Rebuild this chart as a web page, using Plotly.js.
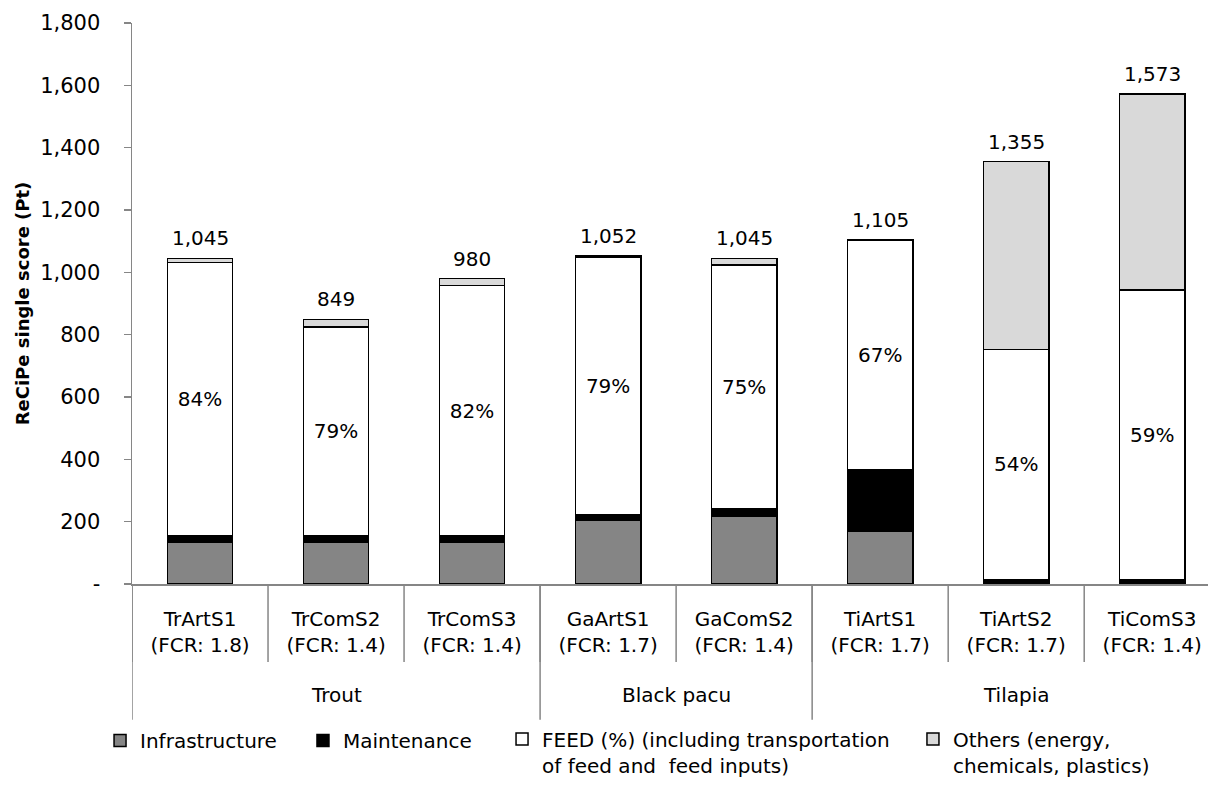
<!DOCTYPE html>
<html>
<head>
<meta charset="utf-8">
<script src="https://cdn.plot.ly/plotly-3.0.1.min.js"></script>
<style>
  html, body { margin: 0; padding: 0; background: #ffffff; overflow: hidden; }
  #chart { width: 1208px; height: 785px; }
</style>
</head>
<body>
<div id="chart"></div>
<script>
// ---- data ----
const categories = [
  "TrArtS1<br>(FCR: 1.8)", "TrComS2<br>(FCR: 1.4)", "TrComS3<br>(FCR: 1.4)",
  "GaArtS1<br>(FCR: 1.7)", "GaComS2<br>(FCR: 1.4)",
  "TiArtS1<br>(FCR: 1.7)", "TiArtS2<br>(FCR: 1.7)", "TiComS3<br>(FCR: 1.4)"
];
const groups = ["Trout", "Black pacu", "Tilapia"];
const groupSizes = [3, 2, 3];
const infrastructure = [135, 135, 135, 205, 216, 170, 3, 3];
const maintenance    = [19, 19, 19, 16, 24, 195, 12, 12];
const feed           = [878, 671, 804, 828, 784, 737, 738, 928];
const others         = [13, 24, 22, 3, 21, 3, 602, 630];
const feedPct        = ["84%", "79%", "82%", "79%", "75%", "67%", "54%", "59%"];
const totals         = [1045, 849, 980, 1052, 1045, 1105, 1355, 1573];
const yTickVals      = [0, 200, 400, 600, 800, 1000, 1200, 1400, 1600, 1800];
const yTickText      = ["-", "200", "400", "600", "800", "1,000", "1,200", "1,400", "1,600", "1,800"];
const seriesNames = [
  "Infrastructure",
  "Maintenance",
  "FEED (%) (including transportation<br>of feed and  feed inputs)",
  "Others (energy,<br>chemicals, plastics)"
];

// ---- style ----
const FONT = "DejaVu Sans, Verdana, sans-serif";
const AXIS_GREY = "#868686";
const outline = { color: "#000000", width: 1.5 };
const legendIds = ["legend", "legend2", "legend3", "legend4"];
const legendX = [-0.0297, 0.1589, 0.3439, 0.7258];
const legendTwoLine = [false, false, true, true];

function barTrace(i, values, color, extra) {
  return Object.assign({
    type: "bar",
    name: seriesNames[i],
    legend: legendIds[i],
    x: categories,
    y: values,
    marker: { color: color, line: outline },
    hoverinfo: "skip",
    textposition: "none"
  }, extra || {});
}

const traces = [
  barTrace(0, infrastructure, "#858585"),
  barTrace(1, maintenance, "#000000"),
  barTrace(2, feed, "#ffffff", {
    text: feedPct,
    textposition: "inside",
    insidetextanchor: "middle",
    textangle: 0,
    insidetextfont: { family: FONT, size: 20, color: "#000000" }
  }),
  barTrace(3, others, "#d9d9d9")
];

// separators and labels below the category axis, total labels above bars
const shapes = [];
const annotations = [];
for (let i = 0; i < categories.length; i++) {
  shapes.push({
    type: "line", xref: "x", yref: "paper",
    x0: i - 0.5, x1: i - 0.5, y0: 0, y1: -0.139,
    line: { color: AXIS_GREY, width: 1.5 }
  });
  annotations.push({
    xref: "x", yref: "y",
    x: categories[i], y: totals[i],
    text: totals[i].toLocaleString("en-US"),
    showarrow: false,
    xanchor: "center", yanchor: "bottom", yshift: 6,
    font: { family: FONT, size: 20, color: "#000000" }
  });
}
let start = 0;
groups.forEach((g, k) => {
  const end = start + groupSizes[k];
  shapes.push({
    type: "line", xref: "x", yref: "paper",
    x0: start - 0.5, x1: start - 0.5, y0: 0, y1: -0.242,
    line: { color: AXIS_GREY, width: 1.5 }
  });
  annotations.push({
    xref: "x", yref: "paper",
    x: (start + end - 1) / 2, y: -0.198,
    text: g, showarrow: false,
    font: { family: FONT, size: 20, color: "#000000" },
    xanchor: "center", yanchor: "middle"
  });
  start = end;
});

function legendCfg(i) {
  const twoLine = legendTwoLine[i];
  return {
    orientation: "v",
    x: legendX[i], xanchor: "left",
    y: twoLine ? -0.3575 : -0.2442,
    yanchor: twoLine ? "bottom" : "top",
    valign: "top",
    font: { family: FONT, size: 20, color: "#000000" },
    bgcolor: "rgba(0,0,0,0)",
    itemclick: false,
    itemdoubleclick: false
  };
}

const layout = {
  width: 1208,
  height: 785,
  margin: { l: 132, r: 0, t: 23, b: 201 },
  paper_bgcolor: "#ffffff",
  plot_bgcolor: "#ffffff",
  barmode: "stack",
  bargap: 0.52,
  showlegend: true,
  hovermode: false,
  font: { family: FONT, size: 20, color: "#000000" },
  xaxis: {
    type: "category",
    range: [-0.5, 7.41],
    showline: true,
    linecolor: AXIS_GREY,
    linewidth: 1.5,
    ticks: "",
    showgrid: false,
    zeroline: false,
    tickfont: { family: FONT, size: 20, color: "#000000" },
    ticklabelstandoff: 16,
    fixedrange: true
  },
  yaxis: {
    range: [0, 1800],
    tickvals: yTickVals,
    ticktext: yTickText,
    showline: true,
    linecolor: AXIS_GREY,
    linewidth: 1.5,
    ticks: "outside",
    ticklen: 7,
    tickcolor: AXIS_GREY,
    tickwidth: 1.5,
    showgrid: false,
    zeroline: false,
    tickfont: { family: FONT, size: 21, color: "#000000" },
    ticklabelstandoff: 19,
    title: {
      text: "ReCiPe single score (Pt)",
      font: { family: FONT, size: 18, color: "#000000", weight: "bold" },
      standoff: 6
    },
    fixedrange: true
  },
  legend: legendCfg(0),
  legend2: legendCfg(1),
  legend3: legendCfg(2),
  legend4: legendCfg(3),
  shapes: shapes,
  annotations: annotations
};

Plotly.newPlot("chart", traces, layout, { displayModeBar: false, staticPlot: true });
</script>
</body>
</html>
